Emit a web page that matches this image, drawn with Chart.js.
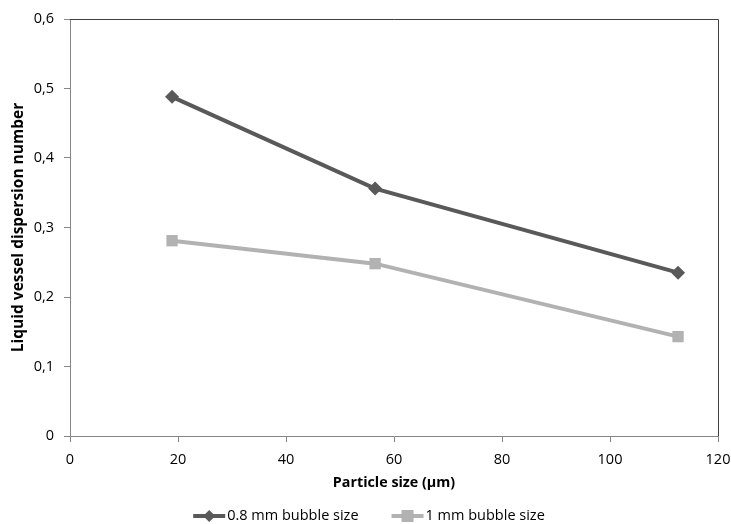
<!DOCTYPE html>
<html lang="en">
<head>
  <meta charset="UTF-8" />
  <title>Liquid vessel dispersion number vs particle size</title>
  <script src="https://cdn.jsdelivr.net/npm/chart.js"></script>
  <style>
    html, body {
      margin: 0;
      padding: 0;
      background: #fff;
    }
    #wrap {
      width: 731px;
      height: 524px;
    }
  </style>
</head>
<body>
  <div id="wrap"><canvas id="chart" width="731" height="524"></canvas></div>

  <script>
    // particle size (µm)
    const particleSize = [18.9, 56.5, 112.6];
    // liquid vessel dispersion number
    const bubble08 = [0.488, 0.356, 0.235];
    const bubble1 = [0.281, 0.248, 0.143];
    const seriesNames = ["0.8 mm bubble size", "1 mm bubble size"];
    const xTicks = [0, 20, 40, 60, 80, 100, 120];
    const yTicks = [0, 0.1, 0.2, 0.3, 0.4, 0.5, 0.6];

    const FONT = "'Open Sans', sans-serif";
    const DARK = "#595959";
    const LIGHT = "#b2b2b2";
    const AXIS = "#868686";

    const toPoints = (ys) => ys.map((y, i) => ({ x: particleSize[i], y: y }));

    // frame on top and right of the plot area
    const frame = {
      id: "frame",
      beforeDatasetsDraw(chart) {
        const { ctx, chartArea: a } = chart;
        ctx.save();
        ctx.strokeStyle = "#404040";
        ctx.lineWidth = 1;
        ctx.beginPath();
        ctx.moveTo(a.left, a.top + 0.5);
        ctx.lineTo(a.right + 0.5, a.top + 0.5);
        ctx.lineTo(a.right + 0.5, a.bottom);
        ctx.stroke();
        ctx.restore();
      }
    };

    // excel-style legend: line with marker, then text
    const bottomLegend = {
      id: "bottomLegend",
      afterDraw(chart) {
        const ctx = chart.ctx;
        const y = 516;
        const lineLen = 32;
        const gap = 33;
        ctx.save();
        ctx.font = "14.5px " + FONT;
        ctx.textBaseline = "middle";
        const widths = chart.data.datasets.map(d => lineLen + 2 + ctx.measureText(d.label).width);
        const total = widths.reduce((s, w) => s + w, 0) + gap;
        let x = 369 - total / 2;
        chart.data.datasets.forEach((d, i) => {
          ctx.strokeStyle = d.borderColor;
          ctx.lineWidth = 4;
          ctx.beginPath();
          ctx.moveTo(x, y);
          ctx.lineTo(x + lineLen, y);
          ctx.stroke();
          ctx.fillStyle = d.pointBackgroundColor;
          const cx = x + lineLen / 2;
          if (d.pointStyle === "rectRot") {
            ctx.beginPath();
            ctx.moveTo(cx, y - 6);
            ctx.lineTo(cx + 6, y);
            ctx.lineTo(cx, y + 6);
            ctx.lineTo(cx - 6, y);
            ctx.closePath();
            ctx.fill();
          } else {
            ctx.fillRect(cx - 6, y - 6, 12, 12);
          }
          ctx.fillStyle = "#000";
          ctx.fillText(d.label, x + lineLen + 2, y);
          x += widths[i] + gap;
        });
        ctx.restore();
      }
    };

    new Chart(document.getElementById("chart"), {
      type: "line",
      data: {
        datasets: [
          {
            label: seriesNames[0],
            data: toPoints(bubble08),
            borderColor: DARK,
            backgroundColor: DARK,
            pointBackgroundColor: DARK,
            pointBorderColor: DARK,
            borderWidth: 4,
            pointStyle: "rectRot",
            pointRadius: 7,
            pointBorderWidth: 0,
            tension: 0
          },
          {
            label: seriesNames[1],
            data: toPoints(bubble1),
            borderColor: LIGHT,
            backgroundColor: LIGHT,
            pointBackgroundColor: LIGHT,
            pointBorderColor: LIGHT,
            borderWidth: 4,
            pointStyle: "rect",
            pointRadius: 8,
            pointBorderWidth: 0,
            tension: 0
          }
        ]
      },
      options: {
        responsive: false,
        animation: false,
        layout: { padding: { left: 0, right: 13, top: 19, bottom: 28 } },
        plugins: {
          legend: { display: false },
          tooltip: { enabled: false }
        },
        scales: {
          x: {
            type: "linear",
            min: xTicks[0],
            max: xTicks[xTicks.length - 1],
            afterBuildTicks: (s) => { s.ticks = xTicks.map(v => ({ value: v })); },
            afterFit: (s) => { s.height = 60; s.paddingLeft = 0; s.paddingRight = 0; },
            border: { color: AXIS, width: 1 },
            grid: { drawOnChartArea: false, drawTicks: true, tickLength: 6, color: AXIS },
            ticks: { color: "#000", font: { family: FONT, size: 14.5 }, padding: 9, maxRotation: 0 },
            title: {
              display: true,
              text: "Particle size (µm)",
              color: "#000",
              font: { family: FONT, size: 14.3, weight: "bold" },
              padding: { top: 2, bottom: 4 }
            }
          },
          y: {
            min: yTicks[0],
            max: yTicks[yTicks.length - 1],
            afterBuildTicks: (s) => { s.ticks = yTicks.map(v => ({ value: v })); },
            afterFit: (s) => { s.width = 70; s.paddingTop = 0; s.paddingBottom = 0; },
            border: { color: AXIS, width: 1 },
            grid: { drawOnChartArea: false, drawTicks: true, tickLength: 6, color: AXIS },
            ticks: {
              color: "#000",
              font: { family: FONT, size: 14.5 },
              padding: 10,
              callback: (v) => v === 0 ? "0" : v.toFixed(1).replace(".", ",")
            },
            title: {
              display: true,
              text: "Liquid vessel dispersion number",
              color: "#000",
              font: { family: FONT, size: 15.5, weight: "bold" },
              padding: { top: 9, bottom: 4 }
            }
          }
        }
      },
      plugins: [frame, bottomLegend]
    });
  </script>
</body>
</html>
